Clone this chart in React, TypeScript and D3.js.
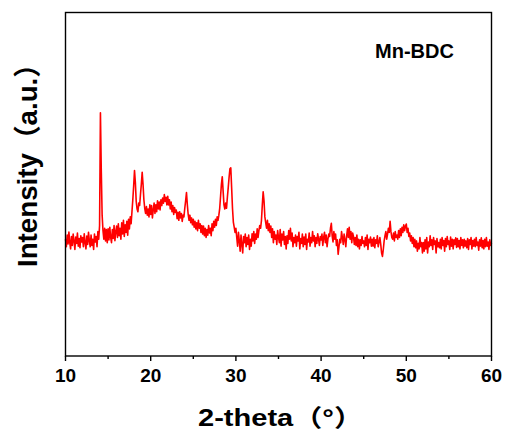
import React from 'react';
import * as d3 from 'd3';

// XRD pattern of Mn-BDC, 2-theta from 10 to 60 in 0.1 degree steps (one row per degree)
const thetaStart = 10;
const thetaStep = 0.1;
const intensity = [
  340, 318, 352, 326, 361, 330, 312, 348, 322, 355,
  335, 310, 346, 328, 358, 320, 342, 315, 350, 332,
  345, 318, 356, 330, 312, 349, 325, 360, 336, 318,
  352, 322, 340, 310, 355, 332, 348, 318, 362, 340,
  380, 708, 540, 410, 365, 340, 372, 335, 368, 330,
  370, 338, 375, 345, 330, 368, 342, 380, 336, 362,
  378, 345, 385, 350, 372, 340, 388, 355, 395, 348,
  382, 360, 392, 352, 398, 370, 405, 385, 420, 455,
  495, 540, 505, 450, 428, 420, 445, 438, 470, 500,
  535, 500, 455, 430, 415, 435, 410, 428, 405, 440,
  412, 438, 402, 425, 445, 415, 440, 420, 452, 428,
  448, 425, 455, 438, 460, 445, 470, 450, 462, 440,
  465, 440, 455, 428, 448, 420, 438, 412, 432, 418,
  425, 400, 418, 395, 420, 402, 415, 392, 410, 405,
  430, 452, 476, 440, 412, 395, 410, 388, 402, 382,
  398, 375, 392, 370, 388, 365, 395, 372, 385, 360,
  380, 355, 378, 350, 372, 345, 368, 352, 380, 358,
  372, 350, 385, 365, 392, 375, 398, 380, 405, 395,
  410, 430, 465, 500, 522, 480, 440, 428, 445, 430,
  462, 490, 520, 545, 548, 490, 430, 390, 375, 360,
  372, 345, 320, 360, 335, 305, 352, 325, 300, 348,
  330, 355, 318, 345, 325, 352, 310, 340, 320, 356,
  335, 362, 328, 355, 340, 370, 345, 365, 380, 372,
  395, 440, 478, 452, 405, 388, 372, 395, 365, 385,
  360, 378, 345, 370, 330, 362, 340, 352, 325, 365,
  345, 330, 368, 320, 355, 338, 362, 325, 348, 312,
  350, 328, 365, 340, 372, 335, 358, 318, 345, 330,
  352, 320, 348, 335, 360, 312, 342, 328, 355, 318,
  346, 325, 355, 310, 340, 332, 358, 320, 345, 330,
  362, 335, 350, 318, 345, 328, 356, 340, 322, 348,
  338, 355, 322, 345, 360, 330, 352, 318, 340, 355,
  348, 372, 386, 350, 332, 362, 340, 355, 322, 338,
  296, 318, 340, 330, 362, 345, 325, 355, 338, 318,
  350, 370, 345, 375, 340, 362, 330, 358, 348, 325,
  345, 322, 352, 318, 340, 312, 338, 322, 348, 328,
  335, 318, 345, 322, 352, 310, 340, 330, 346, 320,
  340, 320, 345, 315, 338, 328, 350, 318, 332, 345,
  325, 300, 290, 310, 335, 350, 362, 340, 355, 372,
  360, 392, 362, 345, 340, 358, 335, 362, 345, 352,
  340, 365, 345, 370, 350, 375, 360, 382, 365, 378,
  384, 360, 372, 348, 358, 335, 350, 328, 345, 318,
  340, 315, 335, 305, 328, 312, 345, 318, 330, 300,
  330, 305, 338, 312, 345, 300, 332, 318, 350, 322,
  338, 310, 345, 325, 335, 300, 342, 318, 330, 315,
  340, 312, 345, 322, 336, 305, 342, 318, 348, 325,
  335, 310, 346, 320, 340, 312, 338, 325, 344, 316,
  342, 318, 336, 312, 345, 322, 338, 315, 340, 320,
  335, 315, 342, 310, 338, 325, 345, 312, 336, 320,
  340, 318, 345, 322, 332, 308, 338, 320, 344, 315,
  336, 312, 340, 318, 345, 320, 332, 310, 338, 322,
  330,
];
const xTicks = [10, 20, 30, 40, 50, 60];
const xMinorTicks = [15, 25, 35, 45, 55];
const sampleName = 'Mn-BDC';

const W = 507;
const H = 434;
const margin = { left: 65.5, right: 15.5, top: 12.5, bottom: 78 };
const font = "'Liberation Sans', Arial, 'Noto Sans CJK SC', sans-serif";

export default function App() {
  const x = d3.scaleLinear().domain([10, 60]).range([margin.left, W - margin.right]);
  const y = d3.scaleLinear().domain([0, 1000]).range([H - margin.bottom, margin.top]);

  const points: [number, number][] = intensity.map((v, i) => [thetaStart + i * thetaStep, v]);
  const line = d3.line<[number, number]>().x(d => x(d[0])).y(d => y(d[1]));

  const bottom = H - margin.bottom;

  return (
    <svg width={W} height={H} style={{ position: 'absolute', left: 0, top: 0 }}>
      <path d={line(points) ?? ''} fill="none" stroke="#ff0000" strokeWidth={1.6} strokeLinejoin="round" />
      <rect x={margin.left} y={margin.top} width={W - margin.left - margin.right}
        height={bottom - margin.top} fill="none" stroke="#000" strokeWidth={1.4} />
      {xTicks.map(t => (
        <g key={t}>
          <line x1={x(t)} x2={x(t)} y1={bottom} y2={bottom + 5} stroke="#000" strokeWidth={1.4} />
          <text x={x(t)} y={382} textAnchor="middle" fontFamily={font} fontWeight="bold" fontSize={19}>{t}</text>
        </g>
      ))}
      {xMinorTicks.map(t => (
        <line key={t} x1={x(t)} x2={x(t)} y1={bottom} y2={bottom + 3} stroke="#000" strokeWidth={1.4} />
      ))}
      <text x={198} y={425.5} fontFamily={font} fontWeight="bold" fontSize={24}
        textLength={165} lengthAdjust="spacingAndGlyphs">2-theta（°）</text>
      <text transform="translate(37,267) scale(1.15,1) rotate(-90)" fontFamily={font}
        fontWeight="bold" fontSize={24} textLength={217} lengthAdjust="spacingAndGlyphs">Intensity（a.u.）</text>
      <text x={375} y={58} fontFamily={font} fontWeight="bold" fontSize={20}>{sampleName}</text>
    </svg>
  );
}
